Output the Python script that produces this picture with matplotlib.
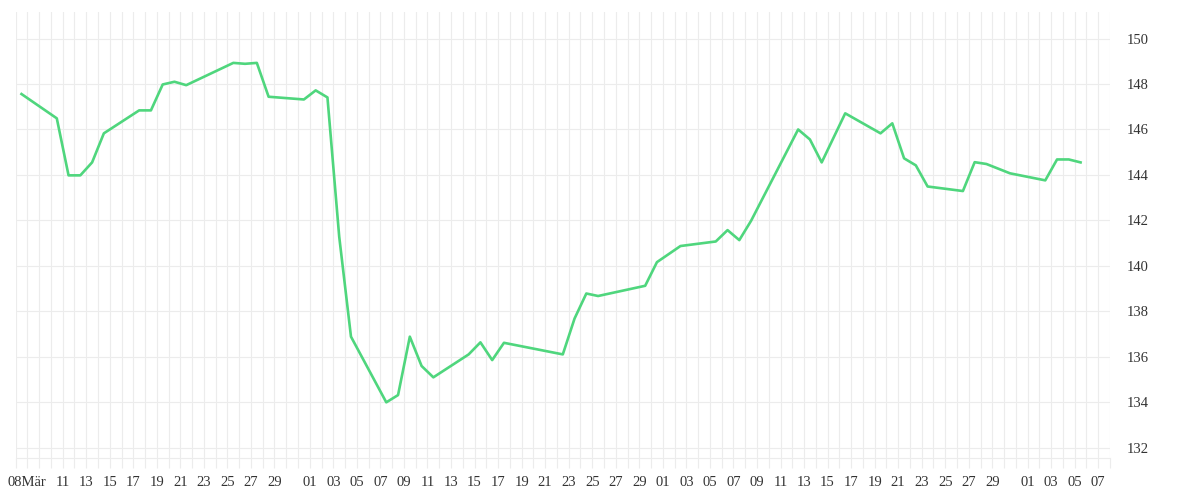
import matplotlib.pyplot as plt
import matplotlib.dates as mdates
import pandas as pd

# =========================
# DATA
# =========================
dates = [
    "2024-03-08", "2024-03-11", "2024-03-12", "2024-03-13", "2024-03-14", "2024-03-15",
    "2024-03-18", "2024-03-19", "2024-03-20", "2024-03-21", "2024-03-22",
    "2024-03-26", "2024-03-27", "2024-03-28", "2024-03-29",
    "2024-04-01", "2024-04-02", "2024-04-03", "2024-04-04", "2024-04-05",
    "2024-04-08", "2024-04-09", "2024-04-10", "2024-04-11", "2024-04-12",
    "2024-04-15", "2024-04-16", "2024-04-17", "2024-04-18",
    "2024-04-23", "2024-04-24", "2024-04-25", "2024-04-26",
    "2024-04-30", "2024-05-01", "2024-05-03",
    "2024-05-06", "2024-05-07", "2024-05-08", "2024-05-09",
    "2024-05-13", "2024-05-14", "2024-05-15", "2024-05-17",
    "2024-05-20", "2024-05-21", "2024-05-22", "2024-05-23", "2024-05-24",
    "2024-05-27", "2024-05-28", "2024-05-29", "2024-05-31",
    "2024-06-03", "2024-06-04", "2024-06-05", "2024-06-06",
]
values = [
    147.56, 146.49, 143.98, 143.98, 144.55, 145.83,
    146.84, 146.84, 147.98, 148.10, 147.95,
    148.93, 148.89, 148.93, 147.44,
    147.32, 147.72, 147.41, 141.28, 136.88,
    133.99, 134.31, 136.88, 135.59, 135.09,
    136.10, 136.63, 135.85, 136.61,
    136.10, 137.68, 138.78, 138.67,
    139.12, 140.16, 140.87,
    141.07, 141.57, 141.13, 141.98,
    146.00, 145.56, 144.55, 146.71,
    145.83, 146.27, 144.73, 144.42, 143.49,
    143.29, 144.56, 144.48, 144.07,
    143.76, 144.68, 144.68, 144.55,
]

# x tick labels (day of month), first one carries the month name
tick_dates = (
    ["2024-03-%02d" % d for d in [8, 11, 13, 15, 17, 19, 21, 23, 25, 27, 29]]
    + ["2024-04-%02d" % d for d in range(1, 30, 2)]
    + ["2024-05-%02d" % d for d in range(1, 30, 2)]
    + ["2024-06-%02d" % d for d in [1, 3, 5, 7]]
)
tick_labels = ["08Mär"] + [d[-2:] for d in tick_dates[1:]]
y_ticks = list(range(132, 151, 2))

# =========================
# PLOT
# =========================
plt.rcParams["font.family"] = ["Liberation Serif", "DejaVu Serif"]

GRID = "#ececec"
TEXT = "#333333"

fig = plt.figure(figsize=(12, 5), dpi=100)
ax = fig.add_axes([0.013, 0.084, 0.912, 0.892])

x = pd.to_datetime(dates) + pd.Timedelta(hours=12)
ax.plot(x, values, color="#4fd67d", lw=1.9, zorder=3)

ax.set_xlim(pd.Timestamp("2024-03-08"), pd.Timestamp("2024-06-09"))
ax.set_ylim(131.54, 151.17)

# daily grid, labels sit at the end of each labelled day
ax.xaxis.set_minor_locator(mdates.DayLocator())
ax.set_xticks(pd.to_datetime(tick_dates) + pd.Timedelta(days=1))
ax.set_xticklabels(tick_labels)

ax.yaxis.tick_right()
ax.set_yticks(y_ticks)

ax.set_axisbelow(True)
ax.grid(which="both", axis="x", color=GRID, lw=0.8)
ax.grid(which="major", axis="y", color=GRID, lw=0.8)

ax.tick_params(axis="x", which="both", length=7.2, width=0.8, color=GRID,
               pad=6, labelsize=10.5, labelcolor=TEXT)
ax.tick_params(axis="y", length=0, pad=12, labelsize=10.5, labelcolor=TEXT)

for side in ["top", "left", "right"]:
    ax.spines[side].set_visible(False)
ax.spines["bottom"].set_color(GRID)
ax.spines["bottom"].set_linewidth(0.8)

plt.savefig("out.png")
plt.close()
